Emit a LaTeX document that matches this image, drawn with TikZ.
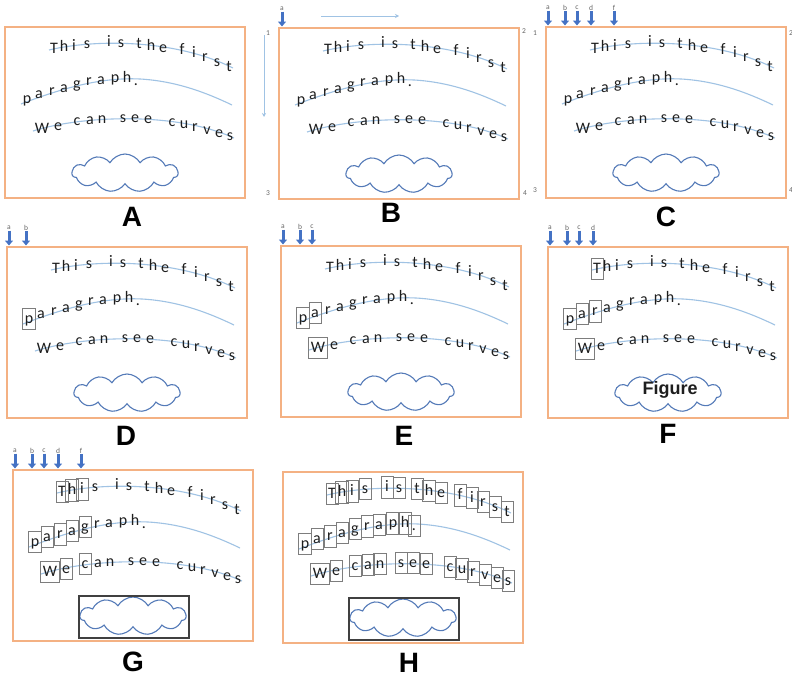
\documentclass[tikz,border=0pt]{standalone}
\usepackage{fontspec}
\setmainfont{Carlito}
\newfontfamily\headfont{Liberation Sans}
\usetikzlibrary{arrows.meta,shapes.symbols}

\definecolor{frameorange}{RGB}{244,177,131}
\definecolor{curveblue}{RGB}{160,195,228}
\definecolor{guideblue}{RGB}{205,222,240}
\definecolor{tagblue}{RGB}{68,114,196}
\definecolor{cloudblue}{RGB}{84,122,184}
\definecolor{ink}{RGB}{30,30,30}
\definecolor{boxgray}{RGB}{125,125,125}

\tikzset{
  panelframe/.style={draw=frameorange, line width=1.4pt},
  textcurve/.style={draw=curveblue, line width=1.1pt},
  letter/.style={inner sep=0pt, inner xsep=1.8pt, inner ysep=3.5pt, minimum width=11.5pt,
    text height=11pt, text depth=3pt, text=ink, font=\fontsize{16}{16}\selectfont},
  lettbox/.style={draw=boxgray, line width=0.8pt},
  cloudy/.style={cloud, cloud puffs=11, cloud puff arc=120, aspect=2.6, draw=cloudblue,
    line width=1.1pt, fill=white, inner sep=0pt, minimum width=106pt, minimum height=38pt},
  holder/.style={draw=black!75, line width=1.3pt},
  guide/.style={draw=guideblue, line width=0.5pt, double=white, double distance=1.2pt},
  tag/.style={inner sep=0.5pt, text=black!60, font=\fontsize{7.5}{7.5}\selectfont},
  pointer/.style={draw=tagblue, line width=3pt, -{Triangle[width=8pt,length=5pt]}},
  flow/.style={draw=curveblue, line width=0.9pt, -{Stealth[length=4pt,width=4pt]}},
  corner/.style={inner sep=0pt, text=black!60, font=\fontsize{7.5}{7.5}\selectfont},
  caption/.style={inner sep=0pt, font=\headfont\bfseries\fontsize{28}{28}\selectfont},
  figtext/.style={inner sep=0pt, text=ink, font=\headfont\bfseries\fontsize{18}{18}\selectfont}
}

% #1 panel, #2 tag letter, #3 x
\newcommand{\tagarrow}[3]{%
  \node[tag] (#1-#2) at (#3,-19) {#2};
  \coordinate (#1-#2-tip) at (#3,-1.5);
  \draw[pointer] (#1-#2) -- (#1-#2-tip);
}

\newcommand{\guides}[2]{%
  \foreach \n/\x in {#2}{
    \draw[guide] (\x,0) -- (\x,171);
    \tagarrow{#1}{\n}{\x}
  }
}

% #1 panel, #2 #3 #4 boxed letters at the start of each line
\newcommand{\panelbase}[4]{%
  \draw[panelframe] (0,0) rectangle (240,171);
  \draw[textcurve] (44,23) .. controls (90,12) and (170,12) .. (228,41);
  \draw[textcurve] (16,77) .. controls (55,62) and (95,50) .. (135,52)
    .. controls (170,54) and (200,65) .. (227,78);
  \draw[textcurve] (28,104) .. controls (75,89) and (170,84) .. (229,111);
  \foreach \ch/\x/\y [count=\i] in {T/49/22,h/59/20.5,i/69/19.5,s/82/17,i/104/15.5,s/116/16,
      t/134/17,h/146/19,e/158/21,f/177/23.5,i/189/26,r/200/30,s/212/35,t/224/40}
    \node[letter] (#1-t\i) at (\x,\y) {\ch};
  \foreach \ch/\x/\y [count=\i] in {p/22/72,a/34/67,r/47/64.5,a/59/61,g/72/57,r/84/54.5,
      a/96/53,p/110/51.5,h/122/51.5,./131/54}
    \node[letter] (#1-p\i) at (\x,\y) {\ch};
  \foreach \ch/\x/\y [count=\i] in {W/37/102,e/53/99,c/72/94,a/85/93,n/97/92,s/118/91,e/130/91,
      e/143/92,c/167/95,u/179/97,r/190/100,v/202/103,e/214/106,s/225/109}
    \node[letter] (#1-w\i) at (\x,\y) {\ch};
  \ifnum#2>0 \foreach \i in {1,...,#2} \draw[lettbox] (#1-t\i.south west) rectangle (#1-t\i.north east);\fi
  \ifnum#3>0 \foreach \i in {1,...,#3} \draw[lettbox] (#1-p\i.south west) rectangle (#1-p\i.north east);\fi
  \ifnum#4>0 \foreach \i in {1,...,#4} \draw[lettbox] (#1-w\i.south west) rectangle (#1-w\i.north east);\fi
  \node[cloudy] (#1-cloud) at (120,146) {};
}

\begin{document}
\begin{tikzpicture}[x=1pt,y=-1pt]
\fill[white] (0,0) rectangle (792,680);
\useasboundingbox (0,0) rectangle (792,680);

\begin{scope}[shift={(5,27)}]
  \panelbase{A}{0}{0}{0}
\end{scope}

\begin{scope}[shift={(279,28)}]
  \tagarrow{B}{a}{3}
  \panelbase{B}{0}{0}{0}
\end{scope}
\node[corner] (B-n1) at (268,33) {1};
\node[corner] (B-n2) at (524,31) {2};
\node[corner] (B-n3) at (268,193) {3};
\node[corner] (B-n4) at (525,193) {4};
\coordinate (B-down0) at (264,35);
\coordinate (B-down1) at (264,117);
\coordinate (B-right0) at (321,16);
\coordinate (B-right1) at (399,16);
\draw[flow] (B-down0) -- (B-down1);
\draw[flow] (B-right0) -- (B-right1);

\begin{scope}[shift={(546,27)}]
  \guides{C}{a/2,b/19,c/31,d/45,f/68}
  \panelbase{C}{0}{0}{0}
\end{scope}
\node[corner] (C-n1) at (535,33) {1};
\node[corner] (C-n2) at (791,33) {2};
\node[corner] (C-n3) at (535,190) {3};
\node[corner] (C-n4) at (791,190) {4};

\begin{scope}[shift={(7,247)}]
  \guides{D}{a/2,b/19}
  \panelbase{D}{0}{1}{0}
\end{scope}

\begin{scope}[shift={(281,246)}]
  \guides{E}{a/2,b/19,c/31}
  \panelbase{E}{0}{2}{1}
\end{scope}

\begin{scope}[shift={(548,247)}]
  \guides{F}{a/2,b/19,c/31,d/45}
  \panelbase{F}{1}{3}{1}
  \node[figtext] (F-figure) at (122,143) {Figure};
\end{scope}

\begin{scope}[shift={(13,470)}]
  \guides{G}{a/2,b/19,c/31,d/45,f/68}
  \panelbase{G}{3}{5}{3}
  \draw[holder] (66,126) rectangle (176,168);
\end{scope}

\begin{scope}[shift={(283,472)}]
  \panelbase{H}{14}{10}{14}
  \draw[holder] (66,126) rectangle (176,168);
\end{scope}

\node[caption] (capA) at (132,217) {A};
\node[caption] (capB) at (391,213) {B};
\node[caption] (capC) at (666,217) {C};
\node[caption] (capD) at (126,436) {D};
\node[caption] (capE) at (404,436) {E};
\node[caption] (capF) at (668,434) {F};
\node[caption] (capG) at (133,662) {G};
\node[caption] (capH) at (409,663) {H};
\end{tikzpicture}
\end{document}
